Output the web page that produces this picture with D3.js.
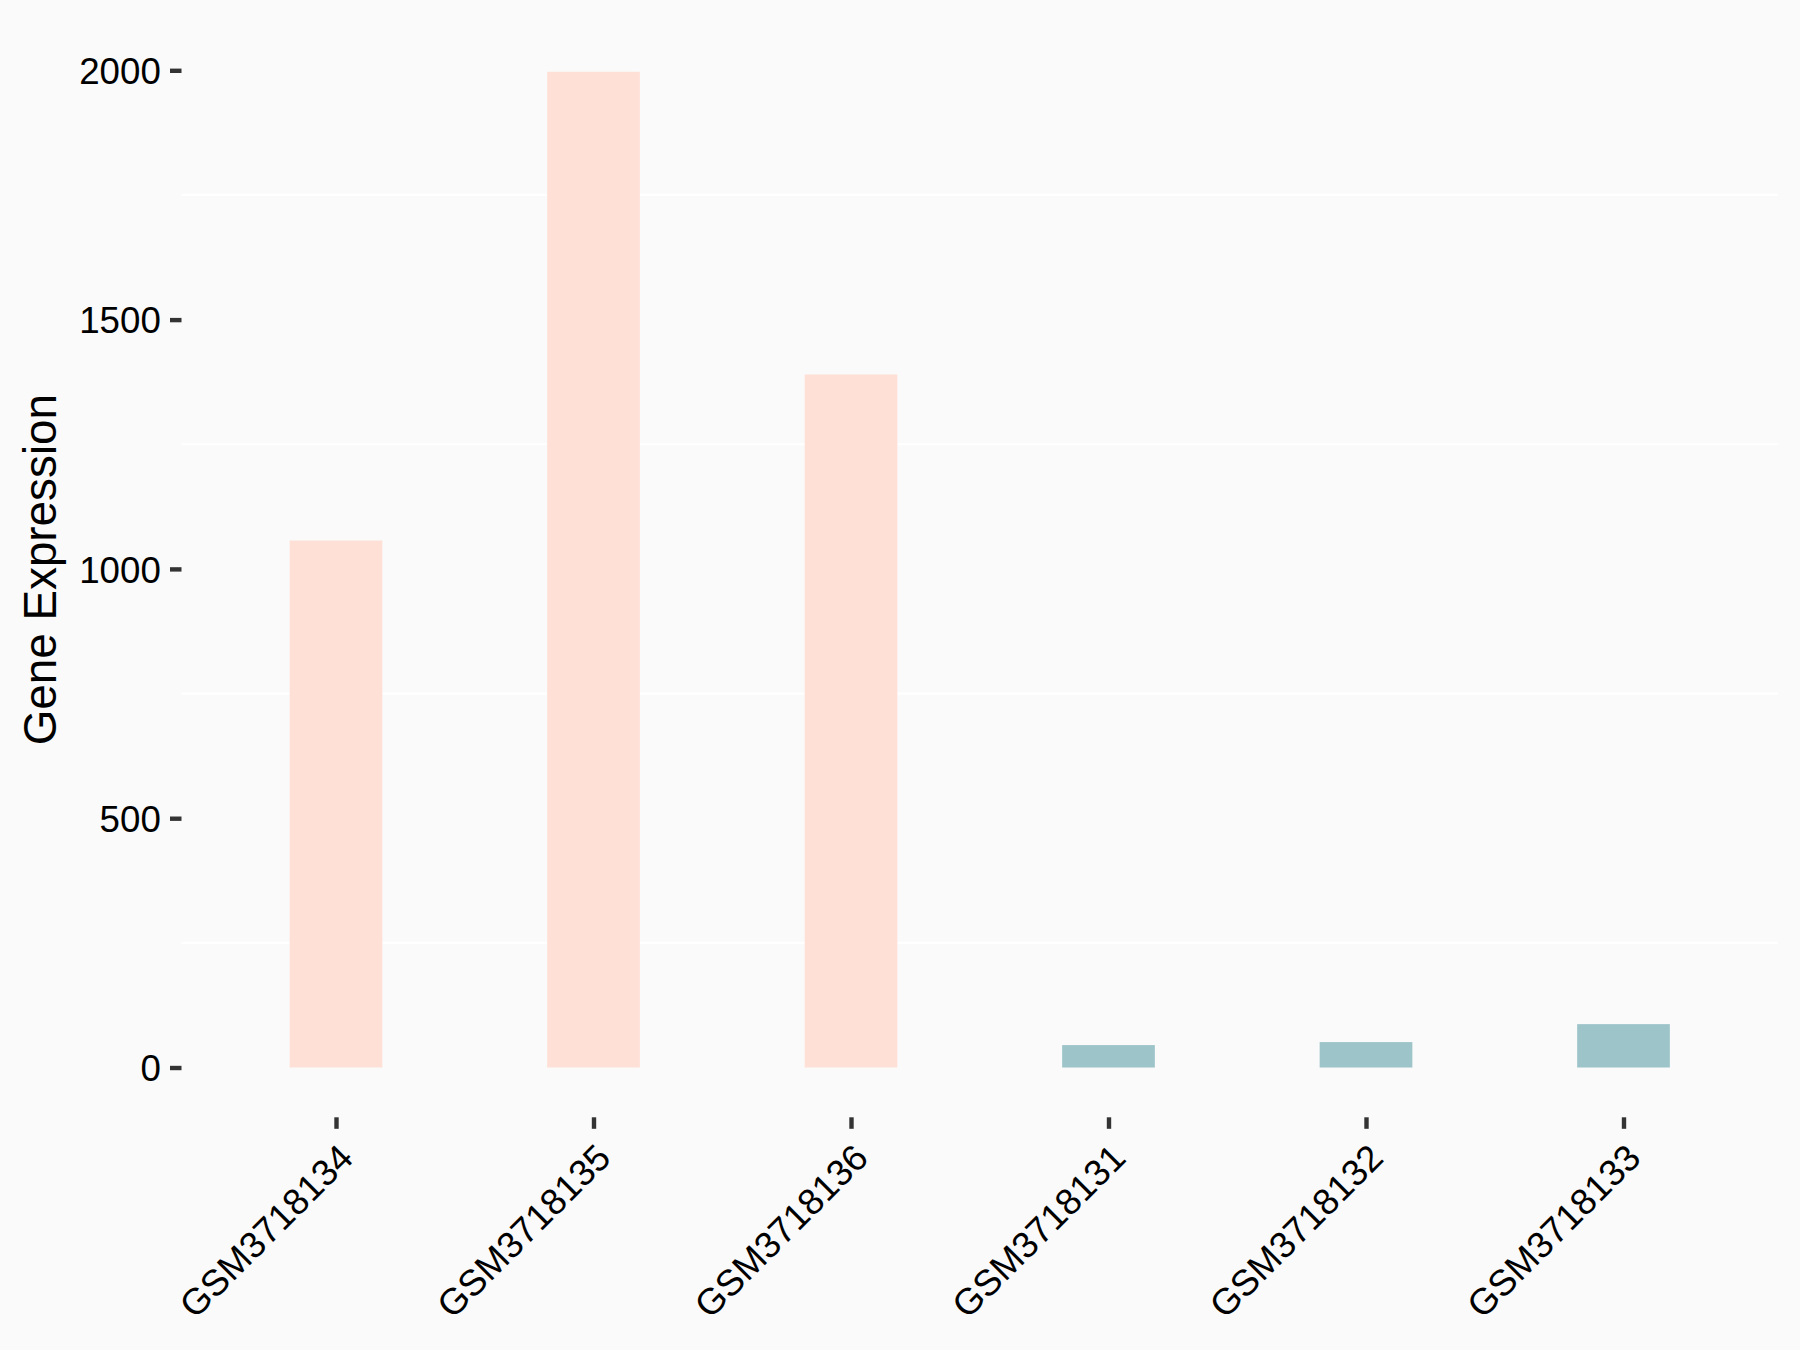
<!DOCTYPE html>
<html>
<head>
<meta charset="utf-8">
<script src="https://cdn.jsdelivr.net/npm/d3@7"></script>
<style>
  html, body { margin: 0; padding: 0; background: #FAFAFA; }
  svg { display: block; }
</style>
</head>
<body>
<script>
"use strict";

// samples, expression values and the group of each sample
let samples = ["GSM3718134", "GSM3718135", "GSM3718136", "GSM3718131", "GSM3718132", "GSM3718133"];
let expression = [1057, 1997, 1390, 45, 51, 87];
let groups = ["high", "high", "high", "low", "low", "low"];
let yTicks = [0, 500, 1000, 1500, 2000];
let yMinor = [250, 750, 1250, 1750];

let w = 1800;
let h = 1350;

// panel box
let panelLeft = 181.5, panelRight = 1778, panelTop = 22, panelBottom = 1117.3;

let colors = d3.scaleOrdinal().domain(["high", "low"]).range(["#FEE0D6", "#9DC4C8"]);

let data = samples.map(function (s, i) {
    return { sample: s, value: expression[i], group: groups[i] };
});

let svg = d3.select("body")
    .append("svg")
    .attr("width", w)
    .attr("height", h);

svg.append("rect")
    .attr("width", w)
    .attr("height", h)
    .attr("fill", "#FAFAFA");

let x = d3.scalePoint()
    .domain(samples)
    .range([panelLeft, panelRight])
    .padding(0.6);

// ggplot style 5% expansion around [0, max]
let ymax = d3.max(expression);
let y = d3.scaleLinear()
    .domain([-0.05 * ymax, ymax * 1.05])
    .range([panelBottom, panelTop]);

let barW = x.step() * 0.36;

// minor grid lines (white)
svg.append("g")
    .selectAll("line")
    .data(yMinor)
    .enter()
    .append("line")
    .attr("x1", panelLeft)
    .attr("x2", panelRight)
    .attr("y1", function (d) { return y(d); })
    .attr("y2", function (d) { return y(d); })
    .style("stroke", "#FFFFFF")
    .style("stroke-width", 2.2);

// bars
svg.append("g")
    .selectAll("rect")
    .data(data)
    .enter()
    .append("rect")
    .attr("x", function (d) { return x(d.sample) - barW / 2; })
    .attr("width", barW)
    .attr("y", function (d) { return y(d.value); })
    .attr("height", function (d) { return y(0) - y(d.value); })
    .attr("fill", function (d) { return colors(d.group); });

// y axis
let yAxis = svg.append("g")
    .attr("transform", "translate(" + panelLeft + ",0)")
    .call(d3.axisLeft(y).tickValues(yTicks).tickFormat(d3.format("d")).tickSize(11.5).tickPadding(9.2));
yAxis.select(".domain").remove();
yAxis.selectAll(".tick line").style("stroke", "#333333").style("stroke-width", 4.4);
yAxis.selectAll(".tick text")
    .style("font", "36.7px 'Liberation Sans', Arial, sans-serif")
    .style("fill", "#000")
    .attr("dy", "0.36em");

// x axis
let xAxis = svg.append("g")
    .attr("transform", "translate(0," + panelBottom + ")")
    .call(d3.axisBottom(x).tickSize(11.5).tickPadding(0));
xAxis.select(".domain").remove();
xAxis.selectAll(".tick line").style("stroke", "#333333").style("stroke-width", 4.4);
xAxis.selectAll(".tick text")
    .style("font", "36.7px 'Liberation Sans', Arial, sans-serif")
    .style("fill", "#000")
    .attr("text-anchor", "end")
    .attr("y", 0)
    .attr("dy", "0.72em")
    .attr("transform", "translate(0,24) rotate(-45)");

// y title
svg.append("text")
    .attr("transform", "translate(56," + ((panelTop + panelBottom) / 2) + ") rotate(-90)")
    .attr("text-anchor", "middle")
    .style("font", "45.8px 'Liberation Sans', Arial, sans-serif")
    .style("fill", "#000")
    .text("Gene Expression");
</script>
</body>
</html>
